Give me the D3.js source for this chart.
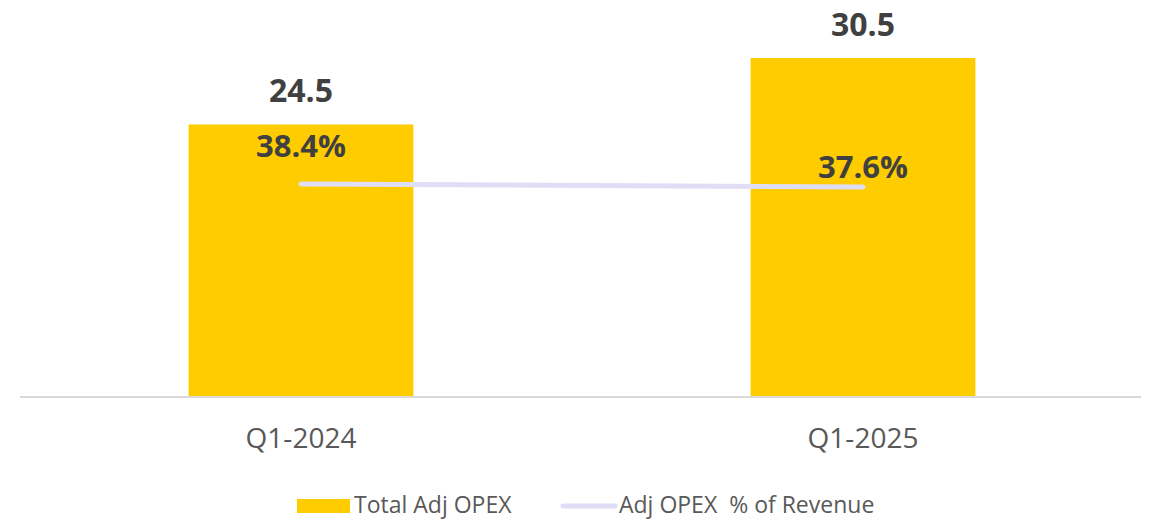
<!DOCTYPE html>
<html>
<head>
<meta charset="utf-8">
<script src="https://cdn.jsdelivr.net/npm/d3@7"></script>
<style>
  html, body { margin: 0; padding: 0; background: #fff; }
  svg text { font-family: "Open Sans", sans-serif; }
</style>
</head>
<body>
<div id="chart"></div>
<script>
"use strict";

var categories = ['Q1-2024', 'Q1-2025'];
var opex = [24.5, 30.5];
var opexPct = [38.4, 37.6];
var legendLabels = ['Total Adj OPEX', 'Adj OPEX  % of Revenue'];

// label nudges for the % series (Excel placed them differently)
var pctLabelOffset = [-27, -9];

var width = 1150;
var height = 521;

var svg = d3.select('#chart')
    .append('svg')
    .attr('width', width)
    .attr('height', height);

var x = d3.scaleBand()
    .domain(categories)
    .range([20, 1144])
    .paddingInner(0.6)
    .paddingOuter(0.3);

var y = d3.scaleLinear()
    .domain([0, 30.5])
    .range([396, 58]);

var y2 = d3.scaleLinear()
    .domain([0, 40])
    .range([328, 178]);

var rows = categories.map(function(c, i) {
    return { cat: c, val: opex[i], pct: opexPct[i], off: pctLabelOffset[i] };
});

// bars
svg.append('g').selectAll('rect')
    .data(rows)
    .enter().append('rect')
    .attr('x', function(d) { return x(d.cat); })
    .attr('y', function(d) { return y(d.val); })
    .attr('width', x.bandwidth())
    .attr('height', function(d) { return y(0) - y(d.val); })
    .attr('fill', '#FFCC00');

// baseline
svg.append('line')
    .attr('x1', 20).attr('x2', 1141)
    .attr('y1', y(0) + 1).attr('y2', y(0) + 1)
    .attr('stroke', '#d9d9d9')
    .attr('stroke-width', 2);

// category labels
var xAxis = svg.append('g')
    .attr('transform', 'translate(0,' + (y(0) + 1) + ')')
    .call(d3.axisBottom(x).tickSize(0).tickPadding(31));
xAxis.select('.domain').remove();
xAxis.selectAll('text')
    .attr('font-size', 28)
    .attr('fill', '#595959')
    .attr('font-family', '"Open Sans", sans-serif');

// bar value labels
svg.append('g').selectAll('text')
    .data(rows)
    .enter().append('text')
    .attr('x', function(d) { return x(d.cat) + x.bandwidth() / 2; })
    .attr('y', function(d) { return y(d.val) - 22; })
    .attr('text-anchor', 'middle')
    .attr('font-size', 32)
    .attr('font-weight', 'bold')
    .attr('fill', '#404040')
    .text(function(d) { return d.val.toFixed(1); });

// % line
var line = d3.line()
    .x(function(d) { return x(d.cat) + x.bandwidth() / 2; })
    .y(function(d) { return y2(d.pct); });

svg.append('path')
    .datum(rows)
    .attr('d', line)
    .attr('fill', 'none')
    .attr('stroke', '#E0DDF7')
    .attr('stroke-width', 5)
    .attr('stroke-linecap', 'round');

svg.append('g').selectAll('text')
    .data(rows)
    .enter().append('text')
    .attr('x', function(d) { return x(d.cat) + x.bandwidth() / 2; })
    .attr('y', function(d) { return y2(d.pct) + d.off; })
    .attr('text-anchor', 'middle')
    .attr('font-size', 31)
    .attr('font-weight', 'bold')
    .attr('fill', '#404040')
    .text(function(d) { return d.pct.toFixed(1) + '%'; });

// legend
var legend = svg.append('g');

legend.append('rect')
    .attr('x', 297).attr('y', 499)
    .attr('width', 53).attr('height', 14)
    .attr('fill', '#FFCC00');

legend.append('text')
    .attr('x', 354).attr('y', 513)
    .attr('font-size', 23)
    .attr('fill', '#595959')
    .text(legendLabels[0]);

legend.append('line')
    .attr('x1', 563).attr('x2', 615)
    .attr('y1', 506).attr('y2', 506)
    .attr('stroke', '#E0DDF7')
    .attr('stroke-width', 5)
    .attr('stroke-linecap', 'round');

legend.append('text')
    .attr('x', 619).attr('y', 513)
    .attr('font-size', 23)
    .attr('fill', '#595959')
    .style('white-space', 'pre')
    .text(legendLabels[1]);
</script>
</body>
</html>
